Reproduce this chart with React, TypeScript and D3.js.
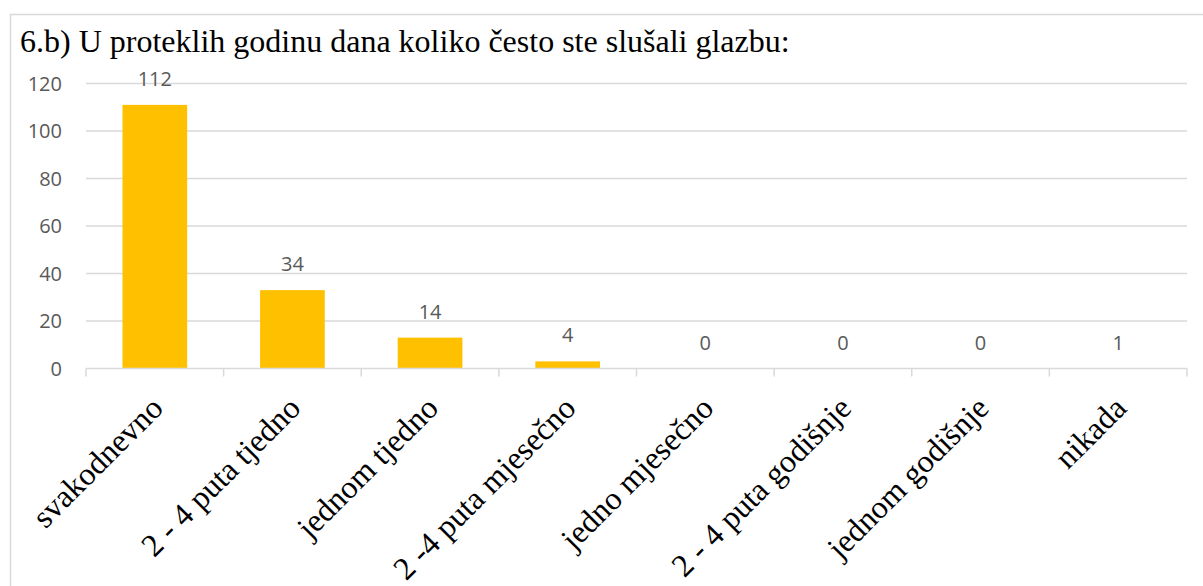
import React from "react";
import * as d3 from "d3";

const categories = [
  "svakodnevno",
  "2 - 4 puta tjedno",
  "jednom tjedno",
  "2 -4 puta mjesečno",
  "jedno mjesečno",
  "2 - 4 puta godišnje",
  "jednom godišnje",
  "nikada",
];
const barValues = [111, 33, 13, 3, 0, 0, 0, 0];
const labelValues = [112, 34, 14, 4, 0, 0, 0, 1];
const yTicks = [0, 20, 40, 60, 80, 100, 120];
const title = "6.b) U proteklih godinu dana koliko često ste slušali glazbu:";

export default function App() {
  const W = 1203, H = 586;
  const left = 86, right = 1187, top = 83.5, bottom = 368.5;
  const x = d3.scaleBand<string>().domain(categories).range([left, right]).paddingInner(0.53).paddingOuter(0.265);
  const xb = d3.scaleBand<string>().domain(categories).range([left, right]);
  const y = d3.scaleLinear().domain([0, 120]).range([bottom, top]);
  const grid = "#D9D9D9";
  const txt = "#595959";
  const sans = "'Open Sans', 'Liberation Sans', sans-serif";
  const serif = "'Liberation Serif', 'Times New Roman', serif";
  return (
    <svg width={W} height={H} style={{ position: "absolute", left: 0, top: 0, background: "#fff" }}>
      <rect x={10.5} y={14.5} width={1250} height={650} fill="#fff" stroke={grid} strokeWidth={1.5} />
      <text x={20} y={52} fontFamily={serif} fontSize={32} fill="#000">{title}</text>
      {yTicks.filter(t => t > 0).map(t => (
        <line key={t} x1={left} x2={right} y1={y(t)} y2={y(t)} stroke={grid} strokeWidth={1.5} />
      ))}
      {yTicks.map(t => (
        <text key={"l" + t} x={62} y={y(t)} dy="0.35em" textAnchor="end" fontFamily={sans} fontSize={20} fill={txt}>{t}</text>
      ))}
      {categories.map((c, i) => (
        <rect key={c} x={x(c)} y={y(barValues[i])} width={x.bandwidth()} height={bottom - y(barValues[i])} fill="#FFC000" />
      ))}
      <line x1={left} x2={right} y1={bottom} y2={bottom} stroke={grid} strokeWidth={1.5} />
      {[...categories.map(c => xb(c) as number), right].map((tx, i) => (
        <line key={"t" + i} x1={tx} x2={tx} y1={bottom} y2={bottom + 8} stroke={grid} strokeWidth={1.5} />
      ))}
      {categories.map((c, i) => (
        <text key={"v" + c} x={(x(c) as number) + x.bandwidth() / 2} y={y(barValues[i]) - 19} textAnchor="middle" fontFamily={sans} fontSize={20} fill={txt}>{labelValues[i]}</text>
      ))}
      {categories.map(c => {
        const cx = (xb(c) as number) + xb.bandwidth() / 2 + 10;
        const cy = 410;
        return (
          <text key={"c" + c} transform={`translate(${cx},${cy}) rotate(-45)`} textAnchor="end" fontFamily={serif} fontSize={32} fill="#000">{c}</text>
        );
      })}
    </svg>
  );
}
